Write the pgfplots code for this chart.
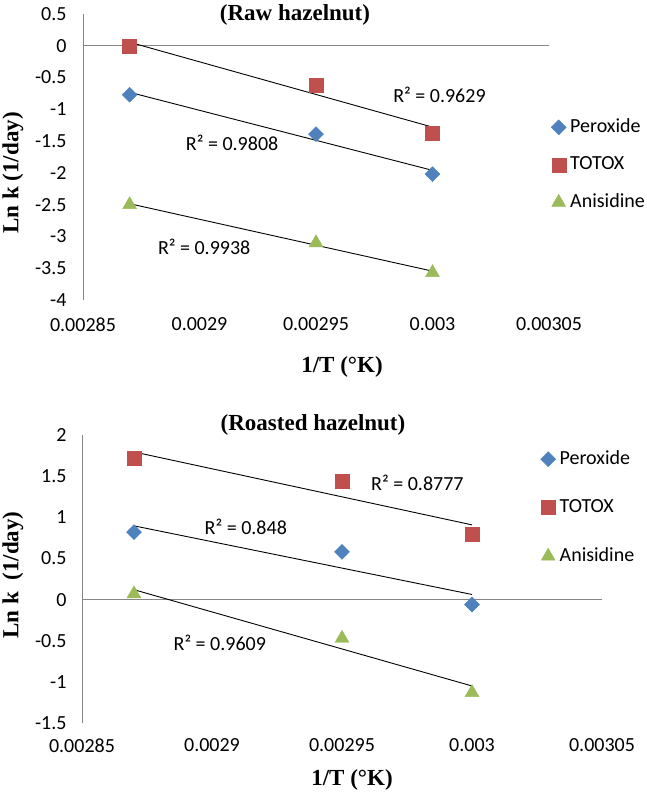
\documentclass[border=0pt]{standalone}
\usepackage{fontspec}
\setmainfont{Liberation Serif}
\newfontfamily\calibfont{Carlito}
\usepackage{pgfplots}
\pgfplotsset{compat=1.18}
\definecolor{cblue}{HTML}{4F81BD}
\definecolor{cred}{HTML}{C0504D}
\definecolor{cgreen}{HTML}{9BBB59}
\definecolor{axgray}{HTML}{868686}
\newcommand{\tfnt}{\calibfont\fontsize{20}{24}\selectfont}
\newcommand{\bfnt}{\bfseries\fontsize{23}{27}\selectfont}
\pgfplotsset{
  legmark/.style={legend image code/.code={\draw[mark repeat=2,mark phase=2,##1] plot coordinates {(0pt,0pt)(7.5pt,0pt)(15pt,0pt)};}},
  pero/.style={only marks, mark=square*, mark size=5.3pt, mark options={rotate=45, fill=cblue, draw=cblue}, legmark},
  toto/.style={only marks, mark=square*, mark size=7pt, mark options={fill=cred, draw=cred}, legmark},
  anis/.style={only marks, mark=triangle*, mark size=8pt, mark options={fill=cgreen, draw=cgreen}, legmark},
  trend/.style={black, line width=0.9pt, forget plot, mark=none},
  mystyle/.style={
    scale only axis,
    axis x line*=bottom, axis y line*=left,
    x axis line style={draw=none},
    y axis line style={draw=axgray, line width=1pt},
    major tick length=0pt,
    tick label style={font=\tfnt},
    xmin=0.00285, xmax=0.00305,
    xtick={0.00285,0.0029,0.00295,0.003,0.00305},
    xticklabels={0.00285,0.0029,0.00295,0.003,0.00305},
    scaled x ticks=false, scaled y ticks=false,
    extra y ticks={0}, extra y tick labels={},
    extra y tick style={grid=major, major grid style={draw=axgray, line width=1pt}},
    clip=false,
    legend cell align=left,
    legend style={draw=none, fill=none, font=\tfnt, inner sep=0pt,
      nodes={inner sep=0pt, text height=14pt, text depth=4pt},
      /tikz/every odd column/.append style={column sep=4pt}},
  }
}
\begin{document}
\begin{tikzpicture}
\path[use as bounding box] (0pt,0pt) rectangle (646pt,-794pt);
% ---------------- Top chart ----------------
\begin{axis}[mystyle,
  at={(83pt,-300pt)}, anchor=south west,
  width=466pt, height=286pt,
  ymin=-4, ymax=0.5,
  ytick={0.5,0,-0.5,-1,-1.5,-2,-2.5,-3,-3.5,-4},
  yticklabels={0.5,0,-0.5,-1,-1.5,-2,-2.5,-3,-3.5,-4},
  yticklabel style={xshift=-13pt},
  xticklabel style={yshift=-14pt},
  legend style={at={(1.0043,0.636)}, anchor=north west, row sep=19.5pt},
]
\addplot[pero] coordinates {(0.00287,-0.77) (0.00295,-1.39) (0.003,-2.02)};
\addlegendentry{Peroxide}
\addplot[toto] coordinates {(0.00287,0.0) (0.00295,-0.62) (0.003,-1.37)};
\addlegendentry{TOTOX}
\addplot[anis] coordinates {(0.00287,-2.5) (0.00295,-3.1) (0.003,-3.57)};
\addlegendentry{Anisidine}
\addplot[trend] coordinates {(0.00287,-0.732) (0.003,-1.960)};
\addplot[trend] coordinates {(0.00287,0.056) (0.003,-1.280)};
\addplot[trend] coordinates {(0.00287,-2.485) (0.003,-3.546)};
\node[font=\tfnt] at (axis cs:0.003003,-0.774) {R² = 0.9629};
\node[font=\tfnt] at (axis cs:0.002914,-1.53) {R² = 0.9808};
\node[font=\tfnt] at (axis cs:0.002902,-3.16) {R² = 0.9938};
\end{axis}
\node[font=\bfnt] at (295pt,-15pt) {(Raw hazelnut)};
\node[font=\bfnt] at (342pt,-367pt) {1/T (°K)};
\node[font=\bfnt, rotate=90] at (13pt,-173pt) {Ln k (1/day)};
% ---------------- Bottom chart ----------------
\begin{axis}[mystyle,
  at={(82pt,-723pt)}, anchor=south west,
  width=520pt, height=288pt,
  ymin=-1.5, ymax=2,
  ytick={2,1.5,1,0.5,0,-0.5,-1,-1.5},
  yticklabels={2,1.5,1,0.5,0,-0.5,-1,-1.5},
  yticklabel style={xshift=-12pt},
  xticklabel style={yshift=-12pt},
  legend style={at={(0.8817,0.948)}, anchor=north west, row sep=30.5pt},
]
\addplot[pero] coordinates {(0.00287,0.82) (0.00295,0.58) (0.003,-0.06)};
\addlegendentry{Peroxide}
\addplot[toto] coordinates {(0.00287,1.72) (0.00295,1.44) (0.003,0.79)};
\addlegendentry{TOTOX}
\addplot[anis] coordinates {(0.00287,0.07) (0.00295,-0.47) (0.003,-1.13)};
\addlegendentry{Anisidine}
\addplot[trend] coordinates {(0.00287,1.794) (0.003,0.908)};
\addplot[trend] coordinates {(0.00287,0.896) (0.003,0.062)};
\addplot[trend] coordinates {(0.00287,0.12) (0.003,-1.05)};
\node[font=\tfnt] at (axis cs:0.002979,1.42) {R² = 0.8777};
\node[font=\tfnt] at (axis cs:0.002913,0.882) {R² = 0.848};
\node[font=\tfnt] at (axis cs:0.002903,-0.528) {R² = 0.9609};
\end{axis}
\node[font=\bfnt] at (313pt,-425pt) {(Roasted hazelnut)};
\node[font=\bfnt] at (352pt,-780pt) {1/T (°K)};
\node[font=\bfnt, rotate=90] at (13pt,-575pt) {Ln k\ \ (1/day)};
\end{tikzpicture}
\end{document}
